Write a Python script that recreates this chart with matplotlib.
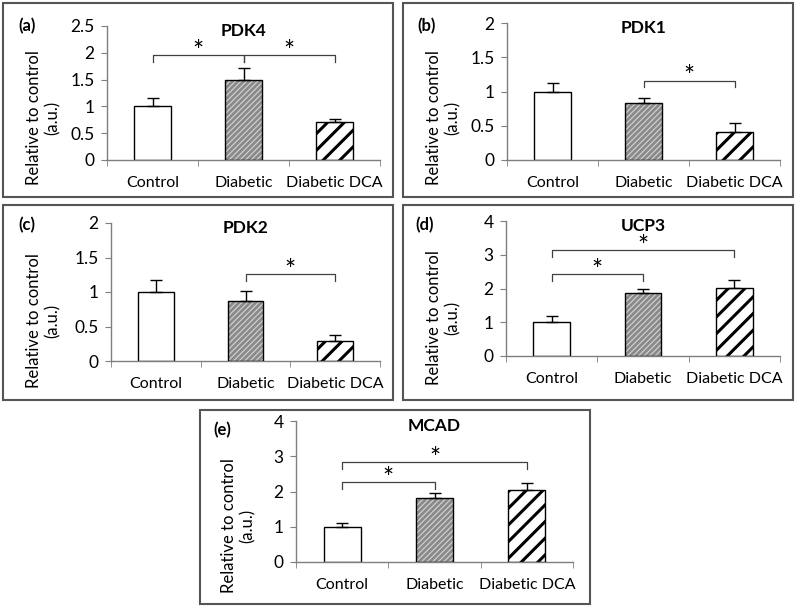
import numpy as np
import matplotlib
matplotlib.use('Agg')
import matplotlib.pyplot as plt
from matplotlib.patches import Rectangle

plt.rcParams['font.family'] = ['Lato', 'DejaVu Sans']

categories = ['Control', 'Diabetic', 'Diabetic DCA']

pdk4 = [1.00, 1.50, 0.70]
pdk4_err = [0.16, 0.21, 0.06]
pdk1 = [1.00, 0.83, 0.41]
pdk1_err = [0.13, 0.08, 0.13]
pdk2 = [1.00, 0.87, 0.29]
pdk2_err = [0.18, 0.14, 0.08]
ucp3 = [1.00, 1.88, 2.02]
ucp3_err = [0.20, 0.11, 0.24]
mcad = [1.00, 1.81, 2.05]
mcad_err = [0.10, 0.14, 0.19]

pdk4_ticks = [0, 0.5, 1, 1.5, 2, 2.5]
pdk_ticks = [0, 0.5, 1, 1.5, 2]
big_ticks = [0, 1, 2, 3, 4]
tick_labels_half = ['0', '0.5', '1', '1.5', '2', '2.5']

# significance brackets: (from, to, height)
pdk4_sig = [(0, 1, 1.96), (1, 2, 1.96)]
pdk1_sig = [(1, 2, 1.16)]
pdk2_sig = [(1, 2, 1.26)]
ucp3_sig = [(0, 1, 2.43), (0, 2, 3.14)]
mcad_sig = [(0, 1, 2.26), (0, 2, 2.83)]

W, H = 800, 611
fig = plt.figure(figsize=(8, 6.11), dpi=100)


def rect_px(x0, y0, x1, y1):
    return [x0 / W, 1 - y1 / H, (x1 - x0) / W, (y1 - y0) / H]


panels = [
    dict(label='(a)', title='PDK4', vals=pdk4, err=pdk4_err, ticks=pdk4_ticks,
         tl=tick_labels_half, sig=pdk4_sig,
         ax=(107, 26, 380, 160), box=(3, 3, 393, 197), lab=(27, 26), yl=(43, 118)),
    dict(label='(b)', title='PDK1', vals=pdk1, err=pdk1_err, ticks=pdk_ticks,
         tl=tick_labels_half[:5], sig=pdk1_sig,
         ax=(507, 23, 780, 160), box=(403, 3, 793, 197), lab=(427, 26), yl=(443, 118)),
    dict(label='(c)', title='PDK2', vals=pdk2, err=pdk2_err, ticks=pdk_ticks,
         tl=tick_labels_half[:5], sig=pdk2_sig,
         ax=(111, 223, 380, 361), box=(3, 205, 393, 400), lab=(27, 225), yl=(43, 321)),
    dict(label='(d)', title='UCP3', vals=ucp3, err=ucp3_err, ticks=big_ticks,
         tl=[str(t) for t in big_ticks], sig=ucp3_sig,
         ax=(506, 221, 780, 356), box=(403, 205, 793, 400), lab=(425, 225), yl=(443, 318)),
    dict(label='(e)', title='MCAD', vals=mcad, err=mcad_err, ticks=big_ticks,
         tl=[str(t) for t in big_ticks], sig=mcad_sig,
         ax=(296, 421, 573, 562), box=(200, 410, 590, 604), lab=(222, 430), yl=(238, 526)),
]

x = np.arange(len(categories))
bw = 0.4
spine_col = '#7f7f7f'

for p in panels:
    bx0, by0, bx1, by1 = p['box']
    fig.patches.append(Rectangle((bx0 / W, 1 - by1 / H), (bx1 - bx0) / W, (by1 - by0) / H,
                                 transform=fig.transFigure, fill=False,
                                 edgecolor='#555555', linewidth=1.5))
    ax = fig.add_axes(rect_px(*p['ax']))
    vals, err = p['vals'], p['err']
    ymax = p['ticks'][-1]
    # Control
    ax.bar(x[0], vals[0], bw, facecolor='white', edgecolor='black', linewidth=1, zorder=2)
    # Diabetic
    with plt.rc_context({'hatch.linewidth': 0.8}):
        ax.bar(x[1], vals[1], bw, facecolor='#8a8a8a', edgecolor='#d4d4d4', hatch='//////',
               linewidth=0, zorder=2)
    ax.bar(x[1], vals[1], bw, fill=False, edgecolor='black', linewidth=1, zorder=3)
    # Diabetic DCA
    with plt.rc_context({'hatch.linewidth': 2.2}):
        ax.bar(x[2], vals[2], bw, facecolor='white', edgecolor='black', hatch='//',
               linewidth=0, zorder=2)
    ax.bar(x[2], vals[2], bw, fill=False, edgecolor='black', linewidth=1, zorder=3)

    ax.errorbar(x, vals, yerr=[np.zeros(len(vals)), err], fmt='none', ecolor='black',
                elinewidth=1, capsize=4, capthick=1, zorder=4)

    drop = 0.05 * ymax
    for (i, j, h) in p['sig']:
        ax.plot([x[i], x[i], x[j], x[j]], [h - drop, h, h, h - drop], color='#404040',
                linewidth=0.9, zorder=5, clip_on=False)
        ax.annotate('*', xy=((x[i] + x[j]) / 2, h), xytext=(0, -3.5), textcoords='offset points',
                    ha='center', va='baseline', fontsize=19, zorder=6)

    ax.set_xlim(-0.5, 2.5)
    ax.set_ylim(0, ymax)
    ax.set_yticks(p['ticks'])
    ax.set_yticklabels(p['tl'])
    ax.set_xticks(x)
    ax.set_xticklabels(categories)
    ax.set_xticks([-0.5, 0.5, 1.5, 2.5], minor=True)
    ax.tick_params(axis='x', which='major', length=0, pad=11.5, labelsize=11.5)
    ax.tick_params(axis='x', which='minor', length=4, direction='out', color=spine_col)
    ax.tick_params(axis='y', length=4, direction='out', color=spine_col, pad=5, labelsize=12.5)
    for s in ['top', 'right']:
        ax.spines[s].set_visible(False)
    for s in ['left', 'bottom']:
        ax.spines[s].set_color(spine_col)
        ax.spines[s].set_linewidth(1)
    ax.patch.set_alpha(0)

    ax.annotate(p['title'], xy=(0.5, 1.0), xycoords='axes fraction', xytext=(0, 2),
                textcoords='offset points', ha='center', va='top',
                fontsize=12.5, fontweight='bold')
    fig.text(p['lab'][0] / W, 1 - p['lab'][1] / H, p['label'], ha='center', va='center',
             fontsize=12, fontweight='bold')
    fig.text(p['yl'][0] / W, 1 - p['yl'][1] / H, 'Relative to control\n(a.u.)',
             rotation=90, ha='center', va='center', multialignment='center',
             fontsize=12, linespacing=1.2)

fig.savefig('out.png', dpi=100, facecolor='white')
